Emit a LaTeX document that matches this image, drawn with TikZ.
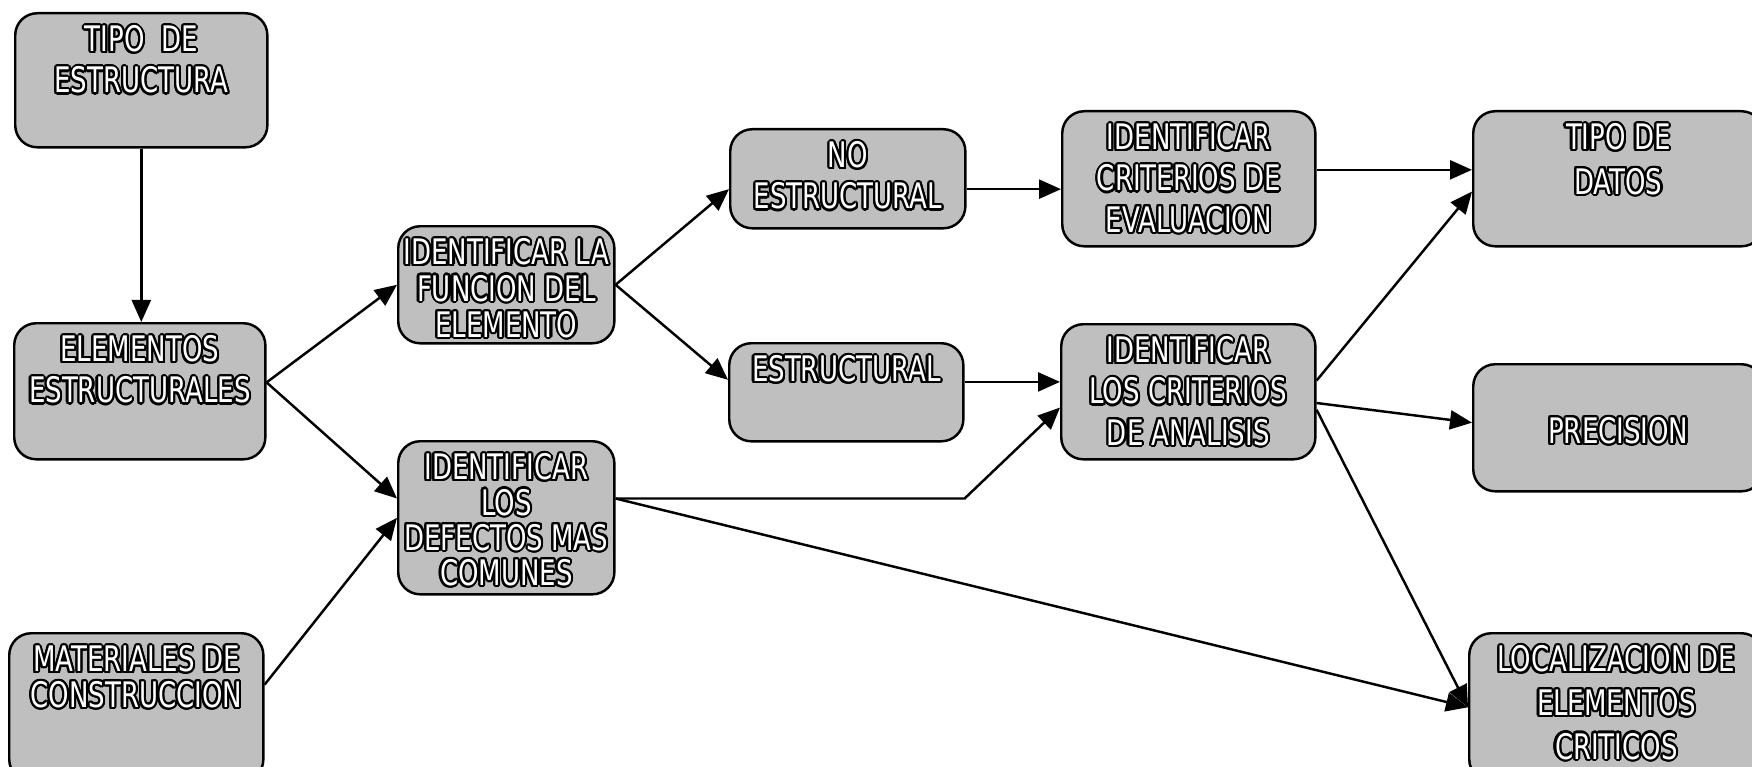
\documentclass[tikz,border=0pt]{standalone}
\usepackage{fontspec}
\usepackage{contour}
\usetikzlibrary{arrows.meta}

\newfontfamily\letrero[FakeStretch=0.74]{DejaVu Sans}
\contourlength{0.6pt}
\contournumber{20}
\newcommand{\hueco}[1]{\contour{black}{#1}}

\tikzset{
  caja/.style={draw=black, line width=0.7pt, fill=black!25, rounded corners=0.22cm,
    anchor=north west, inner sep=0pt},
  texto/.style={anchor=north, align=center, text=white, inner sep=2pt, yshift=-0.06cm,
    font=\letrero\fontsize{10}{11.7}\selectfont},
  flecha/.style={line width=0.7pt, -{Triangle[length=0.22cm,width=0.19cm]}}
}

\begin{document}
\begin{tikzpicture}[x=0.01cm,y=-0.01cm]

    \useasboundingbox (0,0) rectangle (1752,767);

    % Columna izquierda
    \node[caja, minimum width=2.52cm, minimum height=1.34cm,
      label={[texto]90:{\hueco{TIPO\ \ DE}\\\hueco{ESTRUCTURA}}}] (tipo) at (14,12) {};
    \node[caja, minimum width=2.51cm, minimum height=1.36cm,
      label={[texto]90:{\hueco{ELEMENTOS}\\\hueco{ESTRUCTURALES}}}] (elem) at (13,322) {};
    \node[caja, minimum width=2.54cm, minimum height=1.48cm,
      label={[texto, font=\letrero\fontsize{10}{10.1}\selectfont]90:{\hueco{MATERIALES DE}\\\hueco{CONSTRUCCION}}}] (mat) at (8,632) {};

    % Identificar
    \node[caja, minimum width=2.16cm, minimum height=1.17cm,
      label={[texto, font=\letrero\fontsize{10}{10.3}\selectfont]90:{\hueco{IDENTIFICAR LA}\\\hueco{FUNCION DEL}\\\hueco{ELEMENTO}}}] (func) at (397,225) {};
    \node[caja, minimum width=2.16cm, minimum height=1.53cm,
      label={[texto, font=\letrero\fontsize{10}{10}\selectfont]90:{\hueco{IDENTIFICAR}\\\hueco{LOS}\\\hueco{DEFECTOS MAS}\\\hueco{COMUNES}}}] (def) at (397,440) {};

    % Tipo de elemento
    \node[caja, minimum width=2.35cm, minimum height=0.99cm,
      label={[texto]90:{\hueco{NO}\\\hueco{ESTRUCTURAL}}}] (noest) at (729,128) {};
    \node[caja, minimum width=2.34cm, minimum height=0.98cm,
      label={[texto]90:{\hueco{ESTRUCTURAL}}}] (est) at (728,342) {};

    % Criterios
    \node[caja, minimum width=2.53cm, minimum height=1.35cm,
      label={[texto]90:{\hueco{IDENTIFICAR}\\\hueco{CRITERIOS DE}\\\hueco{EVALUACION}}}] (eval) at (1061,110) {};
    \node[caja, minimum width=2.54cm, minimum height=1.35cm,
      label={[texto]90:{\hueco{IDENTIFICAR}\\\hueco{LOS CRITERIOS}\\\hueco{DE ANALISIS}}}] (anal) at (1060,323) {};

    % Resultados
    \node[caja, minimum width=2.90cm, minimum height=1.35cm,
      label={[texto, font=\letrero\fontsize{10}{12.6}\selectfont]90:{\hueco{TIPO DE}\\\hueco{DATOS}}}] (datos) at (1472,110) {};
    \node[caja, minimum width=2.90cm, minimum height=1.27cm,
      label={[texto, anchor=center, yshift=0.02cm]center:{\hueco{PRECISION}}}] (prec) at (1472,363) {};
    \node[caja, minimum width=2.94cm, minimum height=1.48cm,
      label={[texto, font=\letrero\fontsize{10}{12.4}\selectfont]90:{\hueco{LOCALIZACION DE}\\\hueco{ELEMENTOS}\\\hueco{CRITICOS}}}] (loc) at (1468,632) {};

    % Flechas
    \draw[flecha] (tipo.south) -- (tipo.south |- elem.north);
    \draw[flecha] (elem.4) -- (func.west);
    \draw[flecha] (elem.4) -- (def.170);
    \draw[flecha] (mat.10) -- (def.west);

    \draw[flecha] (func.east) -- (noest.185);
    \draw[flecha] (func.east) -- (est.174);
    \draw[flecha] (noest.355) -- (noest.355 -| eval.west);
    \draw[flecha] (est.5) -- (est.5 -| anal.west);
    \draw[flecha] (def.10) -- (def.10 -| est.east) -- (anal.187);
    \draw[flecha] (def.10) -- (loc.west);

    \draw[flecha] (eval.4) -- (eval.4 -| datos.west);
    \draw[flecha] (anal.5) -- (datos.185);
    \draw[flecha] (anal.355) -- (prec.178);
    \draw[flecha] (anal.352) -- (loc.west);

\end{tikzpicture}
\end{document}
